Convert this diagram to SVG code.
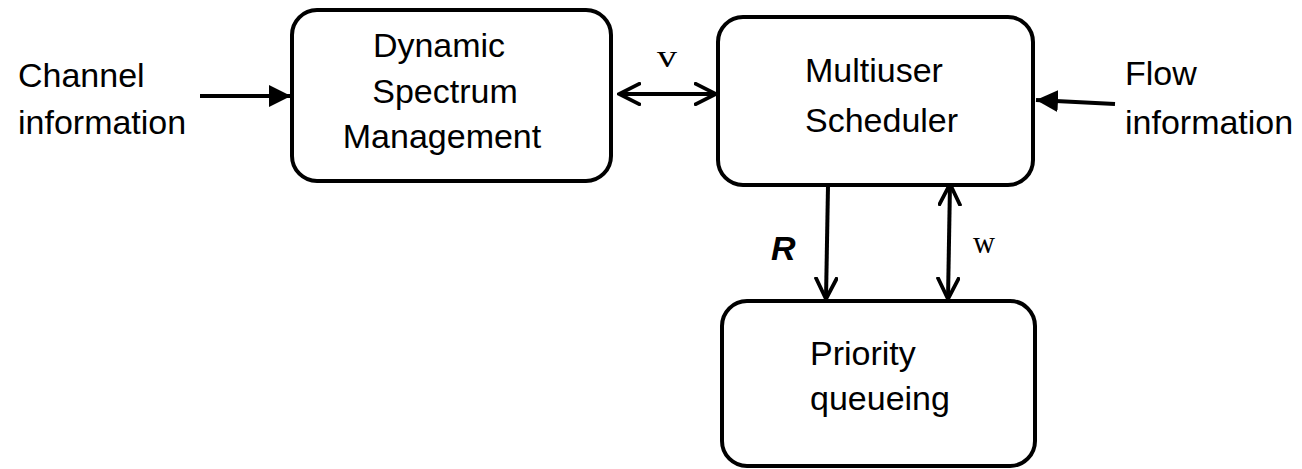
<svg xmlns="http://www.w3.org/2000/svg" width="1302" height="469" viewBox="0 0 1302 469">
<defs>
<style>
.box{fill:#fff;stroke:#000;stroke-width:4}
.t{font-family:"Liberation Sans",Arial,sans-serif;font-size:34px;fill:#000}
.m{font-family:"Liberation Serif","Times New Roman",serif;font-size:31px;fill:#000}
.c{stroke:#000;stroke-width:4;fill:none}
</style>
<marker id="fill" viewBox="0 0 10 10" refX="10" refY="5" markerWidth="22" markerHeight="22" markerUnits="userSpaceOnUse" orient="auto"><path d="M0,0 L10,5 L0,10 Z" fill="#000"/></marker>
<marker id="open" viewBox="0 0 12 12" refX="11" refY="6" markerWidth="24" markerHeight="24" markerUnits="userSpaceOnUse" orient="auto-start-reverse"><path d="M0,0.5 L11,6 L0,11.5" fill="none" stroke="#000" stroke-width="1.9"/></marker>
</defs>
<rect width="1302" height="469" fill="#fff"/>
<g id="connectors">
<line class="c" x1="200" y1="96" x2="291" y2="96" marker-end="url(#fill)"/>
<line class="c" x1="619" y1="94" x2="716" y2="94" marker-start="url(#open)" marker-end="url(#open)"/>
<line class="c" x1="1115" y1="104" x2="1036" y2="100" marker-end="url(#fill)"/>
<line class="c" x1="828" y1="186" x2="826" y2="299" marker-end="url(#open)"/>
<line class="c" x1="950" y1="184" x2="948" y2="299" marker-start="url(#open)" marker-end="url(#open)"/>
<text class="m" x="657" y="67" textLength="20" lengthAdjust="spacingAndGlyphs">v</text>
<text class="t" x="771" y="260" font-weight="bold" font-style="italic">R</text>
<text class="m" x="973" y="253" textLength="22" lengthAdjust="spacingAndGlyphs">w</text>
</g>
<g id="channel">
<text class="t" x="18" y="87">Channel</text>
<text class="t" x="18" y="134">information</text>
</g>
<g id="flow">
<text class="t" x="1125" y="85">Flow</text>
<text class="t" x="1125" y="134">information</text>
</g>
<g id="dsm">
<rect class="box" x="292" y="10" width="319" height="171" rx="25"/>
<text class="t" x="439" y="57" text-anchor="middle">Dynamic</text>
<text class="t" x="445" y="103" text-anchor="middle">Spectrum</text>
<text class="t" x="442" y="148" text-anchor="middle">Management</text>
</g>
<g id="scheduler">
<rect class="box" x="718" y="17" width="315" height="168" rx="25"/>
<text class="t" x="805" y="82">Multiuser</text>
<text class="t" x="805" y="132">Scheduler</text>
</g>
<g id="queue">
<rect class="box" x="722" y="301" width="313" height="165" rx="25"/>
<text class="t" x="810" y="365">Priority</text>
<text class="t" x="810" y="410">queueing</text>
</g>
</svg>
